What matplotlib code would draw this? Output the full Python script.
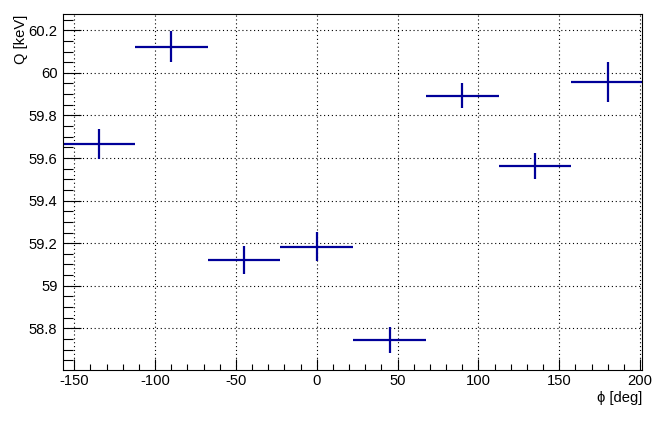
import matplotlib
matplotlib.use("Agg")
import matplotlib.pyplot as plt
from matplotlib.ticker import MultipleLocator, FuncFormatter

plt.rcParams['font.family'] = ['Liberation Sans', 'DejaVu Sans']
plt.rcParams['axes.unicode_minus'] = False

phi = [-135, -90, -45, 0, 45, 90, 135, 180]
phi_err = [22.5, 22.5, 22.5, 22.5, 22.5, 22.5, 22.5, 22.5]
q = [59.666, 60.123, 59.121, 59.184, 58.745, 59.893, 59.561, 59.957]
q_err = [0.070, 0.074, 0.067, 0.069, 0.061, 0.058, 0.061, 0.095]

fig = plt.figure(figsize=(6.71, 4.21), dpi=100)
ax = fig.add_axes([0.0939, 0.1211, 0.8629, 0.8449])

ax.errorbar(phi, q, xerr=phi_err, yerr=q_err, fmt='none',
            ecolor='#000099', elinewidth=1.6, capsize=0)

ax.set_xlim(-157.0, 201.2)
ax.set_ylim(58.604, 60.275)

ax.xaxis.set_major_locator(MultipleLocator(50))
ax.xaxis.set_minor_locator(MultipleLocator(10))
ax.yaxis.set_major_locator(MultipleLocator(0.2))
ax.yaxis.set_minor_locator(MultipleLocator(0.05))
ax.yaxis.set_major_formatter(FuncFormatter(lambda v, p: f'{v:.1f}'.rstrip('0').rstrip('.')))

ax.grid(True, which='major', color='black', linestyle=(0, (1, 2.5)), linewidth=0.8)
ax.tick_params(axis='both', which='both', direction='in', top=False, right=False,
               labelsize=10.6, width=0.8)
ax.tick_params(axis='y', which='major', length=13, pad=4)
ax.tick_params(axis='y', which='minor', length=7)
ax.tick_params(axis='x', which='major', length=8, pad=3)
ax.tick_params(axis='x', which='minor', length=4)
for s in ax.spines.values():
    s.set_linewidth(0.8)

ax.set_xlabel('ϕ [deg]', fontsize=10.6, loc='right', labelpad=2)
ax.set_ylabel('Q [keV]', fontsize=10.6, loc='top')
ax.yaxis.set_label_coords(-0.060, 1.0)

fig.savefig('out.png', dpi=100)
